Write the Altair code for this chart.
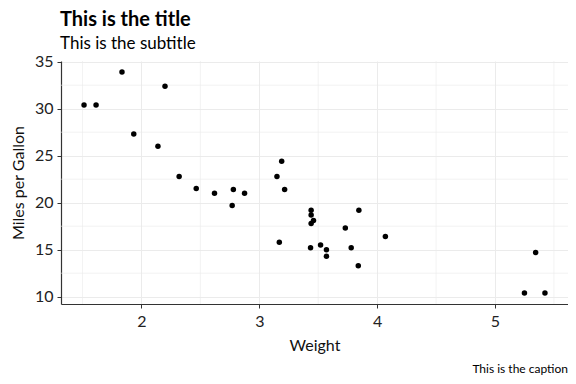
import altair as alt
import pandas as pd

weight = [2.620, 2.875, 2.320, 3.215, 3.440, 3.460, 3.570, 3.190, 3.150, 3.440,
          3.440, 4.070, 3.730, 3.780, 5.250, 5.424, 5.345, 2.200, 1.615, 1.835,
          2.465, 3.520, 3.435, 3.840, 3.845, 1.935, 2.140, 1.513, 3.170, 2.770,
          3.570, 2.780]
mpg = [21.0, 21.0, 22.8, 21.4, 18.7, 18.1, 14.3, 24.4, 22.8, 19.2,
       17.8, 16.4, 17.3, 15.2, 10.4, 10.4, 14.7, 32.4, 30.4, 33.9,
       21.5, 15.5, 15.2, 13.3, 19.2, 27.3, 26.0, 30.4, 15.8, 19.7,
       15.0, 21.4]
x_major = [2, 3, 4, 5]
y_major = [10, 15, 20, 25, 30, 35]
x_minor = [1.5, 2.5, 3.5, 4.5, 5.5]
y_minor = [12.5, 17.5, 22.5, 27.5, 32.5]

FONT = "Lato"
GRID = "#ebebeb"
xdom = [1.3175, 5.6195]
ydom = [9.225, 35.075]

df = pd.DataFrame({"wt": weight, "mpg": mpg})
xs = alt.Scale(domain=xdom, nice=False, zero=False)
ys = alt.Scale(domain=ydom, nice=False, zero=False)

minor_x = alt.Chart(pd.DataFrame({"v": x_minor})).mark_rule(
    color=GRID, strokeWidth=0.6).encode(x=alt.X("v:Q", scale=xs))
minor_y = alt.Chart(pd.DataFrame({"v": y_minor})).mark_rule(
    color=GRID, strokeWidth=0.6).encode(y=alt.Y("v:Q", scale=ys))

points = alt.Chart(df).mark_circle(size=30, color="black", opacity=1).encode(
    x=alt.X("wt:Q", scale=xs, title="Weight",
            axis=alt.Axis(values=x_major, format="d", grid=True, gridColor=GRID, gridWidth=1,
                          domainColor="#333333", tickColor="#333333", tickSize=4,
                          labelFontSize=16, labelColor="#222222", labelPadding=5,
                          titleFontSize=16, titleFontWeight="normal", titlePadding=8,
                          titleColor="#111111")),
    y=alt.Y("mpg:Q", scale=ys, title="Miles per Gallon",
            axis=alt.Axis(values=y_major, format="d", grid=True, gridColor=GRID, gridWidth=1,
                          domainColor="#333333", tickColor="#333333", tickSize=4,
                          labelFontSize=16, labelColor="#222222", labelPadding=4,
                          titleFontSize=16, titleFontWeight="normal", titlePadding=8,
                          titleColor="#111111")),
)

caption = alt.Chart(pd.DataFrame({"t": ["This is the caption"]})).mark_text(
    align="right", baseline="alphabetic", fontSize=12, font=FONT, color="black"
).encode(x=alt.value(507), y=alt.value(312), text="t:N")

chart = alt.layer(minor_x, minor_y, points, caption).properties(
    width=507, height=243,
    title=alt.TitleParams(
        text="This is the title", subtitle="This is the subtitle",
        anchor="start", frame="group", fontSize=20, fontWeight="bold",
        subtitleFontSize=17, subtitleColor="black", color="black",
        font=FONT, subtitleFont=FONT, offset=2, subtitlePadding=6, dx=-1),
    padding={"left": 53, "top": 53, "right": 0, "bottom": 72},
    autosize=alt.AutoSizeParams(type="none"),
).configure(font=FONT).configure_view(stroke=None).configure_axis(
    labelFont=FONT, titleFont=FONT, domainWidth=1.2)

chart.save("out.html", embed_options={"renderer": "svg", "actions": False})
